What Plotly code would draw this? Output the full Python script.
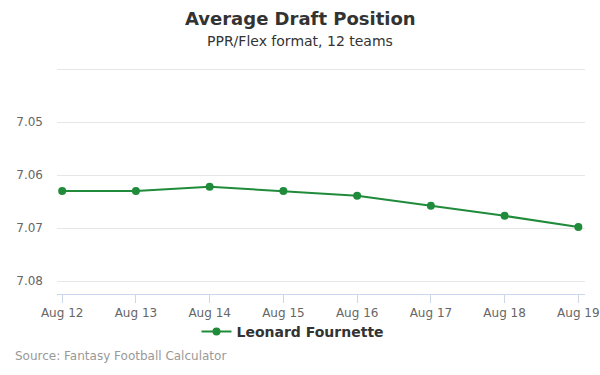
import plotly.graph_objects as go

dates = ["Aug 12", "Aug 13", "Aug 14", "Aug 15", "Aug 16", "Aug 17", "Aug 18", "Aug 19"]
adp = [7.063, 7.063, 7.0622, 7.063, 7.0639, 7.0658, 7.0677, 7.0698]
player = "Leonard Fournette"
y_ticks = [7.04, 7.05, 7.06, 7.07, 7.08]
y_labels = ["", "7.05", "7.06", "7.07", "7.08"]

color = "#1f8b3b"
font = "DejaVu Sans"

fig = go.Figure()
fig.add_trace(go.Scatter(
    x=dates, y=adp, mode="lines+markers", name="<b>" + player + "</b>",
    line=dict(color=color, width=2),
    marker=dict(color=color, size=8),
))

TOP = 67
BOT = 294
H = float(BOT - TOP)
W = 528.0
fig.update_layout(
    width=600, height=375,
    margin=dict(l=57, r=15, t=TOP, b=375 - BOT, autoexpand=False),
    paper_bgcolor="white", plot_bgcolor="white",
    font=dict(family=font, color="#666666"),
    showlegend=True,
    legend=dict(
        orientation="h", x=(293 - 57) / W, xanchor="center", y=-(332 - BOT) / H, yanchor="middle",
        font=dict(size=14, color="#333333", family=font),
        bgcolor="rgba(0,0,0,0)",
    ),
    xaxis=dict(
        type="category", range=[-0.07, 7.09], automargin=False,
        showgrid=False, showline=True, linecolor="#ccd6eb", linewidth=1,
        ticks="outside", ticklen=8, tickcolor="#ccd6eb",
        tickfont=dict(size=12, color="#666666"),
        zeroline=False,
    ),
    yaxis=dict(
        range=[7.08245, 7.0396], autorange=False, automargin=False,
        tickvals=y_ticks, ticktext=y_labels,
        showgrid=True, gridcolor="#e6e6e6", gridwidth=1,
        showline=False, zeroline=False,
        tickfont=dict(size=12, color="#666666"),
        ticks="", ticklabelstandoff=13,
    ),
    annotations=[
        dict(text="<b>Average Draft Position</b>", xref="paper", yref="paper",
             x=(300 - 57) / W, y=(BOT - 19) / H, xanchor="center", yanchor="middle",
             showarrow=False, font=dict(size=18, color="#333333", family=font)),
        dict(text="PPR/Flex format, 12 teams", xref="paper", yref="paper",
             x=(300 - 57) / W, y=(BOT - 41) / H, xanchor="center", yanchor="middle",
             showarrow=False, font=dict(size=14, color="#333333", family=font)),
        dict(text="Source: Fantasy Football Calculator", xref="paper", yref="paper",
             x=(13 - 57) / W, xanchor="left", y=-(356 - BOT) / H, yanchor="middle",
             showarrow=False, font=dict(size=12, color="#999999", family=font)),
    ],
)

fig.write_html("out.html", config={"displayModeBar": False},
               post_script="document.body.style.margin='0';")
